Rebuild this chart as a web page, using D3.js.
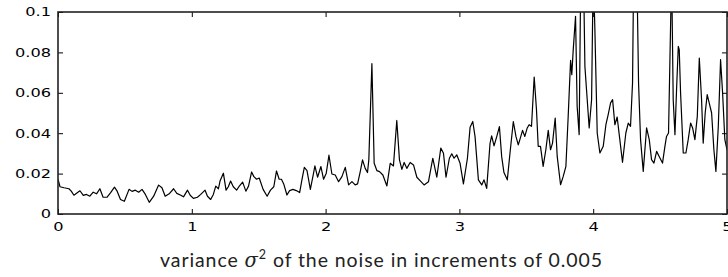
<!DOCTYPE html>
<html>
<head>
<meta charset="utf-8">
<script src="https://cdn.jsdelivr.net/npm/d3@7"></script>
<style>
  html, body { margin: 0; padding: 0; background: #fff; }
  svg { display: block; }
</style>
</head>
<body>
<svg id="chart" width="728" height="277"></svg>
<script>
// variance index (in units shown on x axis, increments of 0.005 scaled)
const xVals = [
  0, 0.015, 0.045, 0.082, 0.099, 0.119, 0.144, 0.164, 0.189, 0.213, 0.238, 0.263, 0.288, 0.313, 0.337, 0.367,
  0.392, 0.422, 0.442, 0.467, 0.496, 0.531, 0.553, 0.578, 0.603, 0.628, 0.653, 0.682, 0.715, 0.752, 0.777, 0.801,
  0.834, 0.864, 0.888, 0.918, 0.938, 0.968, 0.988, 1.012, 1.042, 1.067, 1.099, 1.117, 1.141, 1.161, 1.179, 1.199,
  1.211, 1.236, 1.256, 1.273, 1.290, 1.310, 1.335, 1.352, 1.380, 1.404, 1.424, 1.447, 1.464, 1.484, 1.504, 1.533,
  1.563, 1.588, 1.613, 1.633, 1.653, 1.670,
  1.687, 1.711, 1.731, 1.756, 1.781, 1.806, 1.823, 1.841, 1.861, 1.886, 1.910, 1.920, 1.940, 1.965, 1.985, 2.005,
  2.025, 2.047, 2.072, 2.097, 2.122, 2.147, 2.172, 2.197, 2.221, 2.239, 2.259, 2.276, 2.296, 2.313, 2.323, 2.346,
  2.363, 2.383, 2.403, 2.428, 2.458, 2.483, 2.507, 2.532, 2.552, 2.570, 2.587, 2.607, 2.632, 2.657, 2.682, 2.706,
  2.736, 2.769, 2.801, 2.831, 2.861, 2.881, 2.900, 2.925, 2.943, 2.960, 2.980, 3.005, 3.030, 3.060, 3.080, 3.100,
  3.117, 3.142, 3.167, 3.184, 3.204, 3.229, 3.241, 3.259, 3.279, 3.299, 3.316, 3.333, 3.358, 3.378, 3.403, 3.423,
  3.440,
  3.452, 3.472, 3.489, 3.507, 3.521, 3.539, 3.559, 3.576, 3.589, 3.606, 3.626, 3.646, 3.664, 3.681, 3.696, 3.716,
  3.731, 3.756, 3.776, 3.796, 3.813, 3.831, 3.840, 3.850, 3.868, 3.880, 3.895, 3.908, 3.925, 3.938, 3.950, 3.970,
  3.988, 4.000, 4.012, 4.030, 4.050, 4.075, 4.095, 4.112, 4.130, 4.145, 4.162, 4.179, 4.199, 4.219, 4.244, 4.262,
  4.279, 4.294, 4.304, 4.324, 4.339, 4.354, 4.374, 4.399, 4.419, 4.436, 4.454, 4.474, 4.493, 4.518, 4.536, 4.548,
  4.563, 4.586, 4.598, 4.611, 4.623, 4.636, 4.643, 4.653, 4.673, 4.693, 4.710, 4.728, 4.743, 4.760, 4.778, 4.793,
  4.810, 4.822, 4.837, 4.852, 4.867, 4.885, 4.902, 4.917, 4.935, 4.952, 4.967, 4.984, 5.0
];
const yVals = [
  0.0172, 0.0135, 0.0130, 0.0125, 0.0113, 0.0093, 0.0105, 0.0115, 0.0092, 0.0097, 0.0088, 0.0108, 0.0100, 0.0125, 0.0083, 0.0083,
  0.0105, 0.0133, 0.0113, 0.0072, 0.0063, 0.0122, 0.0112, 0.0118, 0.0108, 0.0122, 0.0097, 0.0058, 0.0088, 0.0143, 0.0130, 0.0088,
  0.0102, 0.0125, 0.0102, 0.0093, 0.0085, 0.0118, 0.0093, 0.0077, 0.0083, 0.0097, 0.0118, 0.0088, 0.0072, 0.0097, 0.0138, 0.0125,
  0.0163, 0.0202, 0.0118, 0.0135, 0.0163, 0.0135, 0.0118, 0.0135, 0.0158, 0.0113, 0.0138, 0.0208, 0.0185, 0.0172, 0.0178, 0.0122,
  0.0088, 0.0118, 0.0135, 0.0213, 0.0172, 0.0172,
  0.0149, 0.0094, 0.0116, 0.0122, 0.0116, 0.0106, 0.0169, 0.0231, 0.0215, 0.0122, 0.0202, 0.0238, 0.0182, 0.0235, 0.0172, 0.0202,
  0.0291, 0.0198, 0.0193, 0.0160, 0.0185, 0.0231, 0.0144, 0.0160, 0.0144, 0.0149, 0.0210, 0.0268, 0.0226, 0.0205, 0.0268, 0.0744,
  0.0251, 0.0215, 0.0210, 0.0193, 0.0139, 0.0251, 0.0238, 0.0463, 0.0268, 0.0221, 0.0255, 0.0226, 0.0255, 0.0243, 0.0182, 0.0165,
  0.0144, 0.0160, 0.0276, 0.0182, 0.0326, 0.0301, 0.0182, 0.0276, 0.0298, 0.0276, 0.0293, 0.0251, 0.0149, 0.0276, 0.0430, 0.0458,
  0.0383, 0.0169, 0.0144, 0.0169, 0.0127, 0.0350, 0.0387, 0.0337, 0.0383, 0.0433, 0.0284, 0.0205, 0.0169, 0.0301, 0.0458, 0.0383,
  0.0342,
  0.0368, 0.0414, 0.0384, 0.0426, 0.0442, 0.0434, 0.0678, 0.0517, 0.0335, 0.0335, 0.0236, 0.0318, 0.0414, 0.0318, 0.0351, 0.0475,
  0.0285, 0.0145, 0.0186, 0.0236, 0.0483, 0.0761, 0.0690, 0.0805, 0.0979, 0.0533, 0.0393, 0.1250, 0.1300, 0.0731, 0.0616, 0.0426,
  0.0566, 0.1200, 0.0930, 0.0401, 0.0302, 0.0335, 0.0442, 0.0492, 0.0550, 0.0566, 0.0442, 0.0480, 0.0368, 0.0256, 0.0401, 0.0450,
  0.0434, 0.0649, 0.1300, 0.1300, 0.0649, 0.0368, 0.0211, 0.0426, 0.0368, 0.0269, 0.0252, 0.0310, 0.0285, 0.0252, 0.0335, 0.0384,
  0.0401, 0.1200, 0.0566, 0.0393, 0.0616, 0.0830, 0.0814, 0.0600, 0.0302, 0.0302, 0.0368, 0.0450, 0.0426, 0.0368, 0.0483, 0.0772,
  0.0566, 0.0351, 0.0500, 0.0591, 0.0550, 0.0500, 0.0318, 0.0211, 0.0434, 0.0764, 0.0600, 0.0368, 0.0318
];
const xTicks = [0, 1, 2, 3, 4, 5];
const xTickLabels = ["0", "1", "2", "3", "4", "5"];
const yTicks = [0, 0.02, 0.04, 0.06, 0.08, 0.1];
const yTickLabels = ["0", "0.02", "0.04", "0.06", "0.08", "0.1"];

const svg = d3.select("#chart");
const m = { left: 58, top: 12, right: 727, bottom: 214 };
const x = d3.scaleLinear().domain([0, 5]).range([m.left, m.right]);
const y = d3.scaleLinear().domain([0, 0.1]).range([m.bottom, m.top]);
const W = m.right - m.left, H = m.bottom - m.top;
const sx = 1.35; // horizontal stretch of tick labels

svg.append("defs").append("clipPath").attr("id", "clip")
  .append("rect").attr("x", m.left).attr("y", m.top).attr("width", W).attr("height", H);

const data = xVals.map((d, i) => [d, yVals[i]]);
svg.append("path")
  .datum(data)
  .attr("clip-path", "url(#clip)")
  .attr("fill", "none")
  .attr("stroke", "#000")
  .attr("stroke-width", 1.2)
  .attr("stroke-linejoin", "round")
  .attr("d", d3.line().x(d => x(d[0])).y(d => y(d[1])));

const tickLen = 5;
function styleAxis(g) {
  g.select(".domain").remove();
  g.selectAll(".tick line").attr("stroke", "#000").attr("stroke-width", 1);
}
// bottom
svg.append("g").attr("transform", `translate(0,${m.bottom})`)
  .call(d3.axisBottom(x).tickValues(xTicks).tickFormat((d, i) => xTickLabels[i]).tickSize(-tickLen).tickPadding(8))
  .call(styleAxis)
  .call(g => g.selectAll("text").attr("transform", `scale(${sx},1)`));
// top
svg.append("g").attr("transform", `translate(0,${m.top})`)
  .call(d3.axisTop(x).tickValues(xTicks).tickFormat("").tickSize(-tickLen))
  .call(styleAxis);
// left
svg.append("g").attr("transform", `translate(${m.left},0)`)
  .call(d3.axisLeft(y).tickValues(yTicks).tickFormat((d, i) => yTickLabels[i]).tickSize(-tickLen).tickPadding(7 / sx))
  .call(styleAxis)
  .call(g => g.selectAll("text").attr("transform", `scale(${sx},1)`));
// right
svg.append("g").attr("transform", `translate(${m.right},0)`)
  .call(d3.axisRight(y).tickValues(yTicks).tickFormat("").tickSize(-tickLen))
  .call(styleAxis);

svg.selectAll(".tick text")
  .attr("font-family", "DejaVu Sans, sans-serif")
  .attr("font-size", 12)
  .attr("fill", "#000");

svg.append("rect")
  .attr("x", m.left).attr("y", m.top).attr("width", W).attr("height", H)
  .attr("fill", "none").attr("stroke", "#222").attr("stroke-width", 1.6);

const lab = svg.append("text")
  .attr("x", 381).attr("y", 267)
  .attr("text-anchor", "middle")
  .attr("font-family", "Lato, sans-serif")
  .attr("font-size", 19.5)
  .attr("textLength", 442)
  .attr("lengthAdjust", "spacing")
  .attr("fill", "#222");
lab.append("tspan").text("variance ");
lab.append("tspan").attr("font-family", "DejaVu Serif, serif").attr("font-style", "italic").text("σ");
lab.append("tspan").attr("font-size", 12.5).attr("dy", -8).text("2");
lab.append("tspan").attr("dy", 8).text(" of the noise in increments of 0.005");
</script>
</body>
</html>
